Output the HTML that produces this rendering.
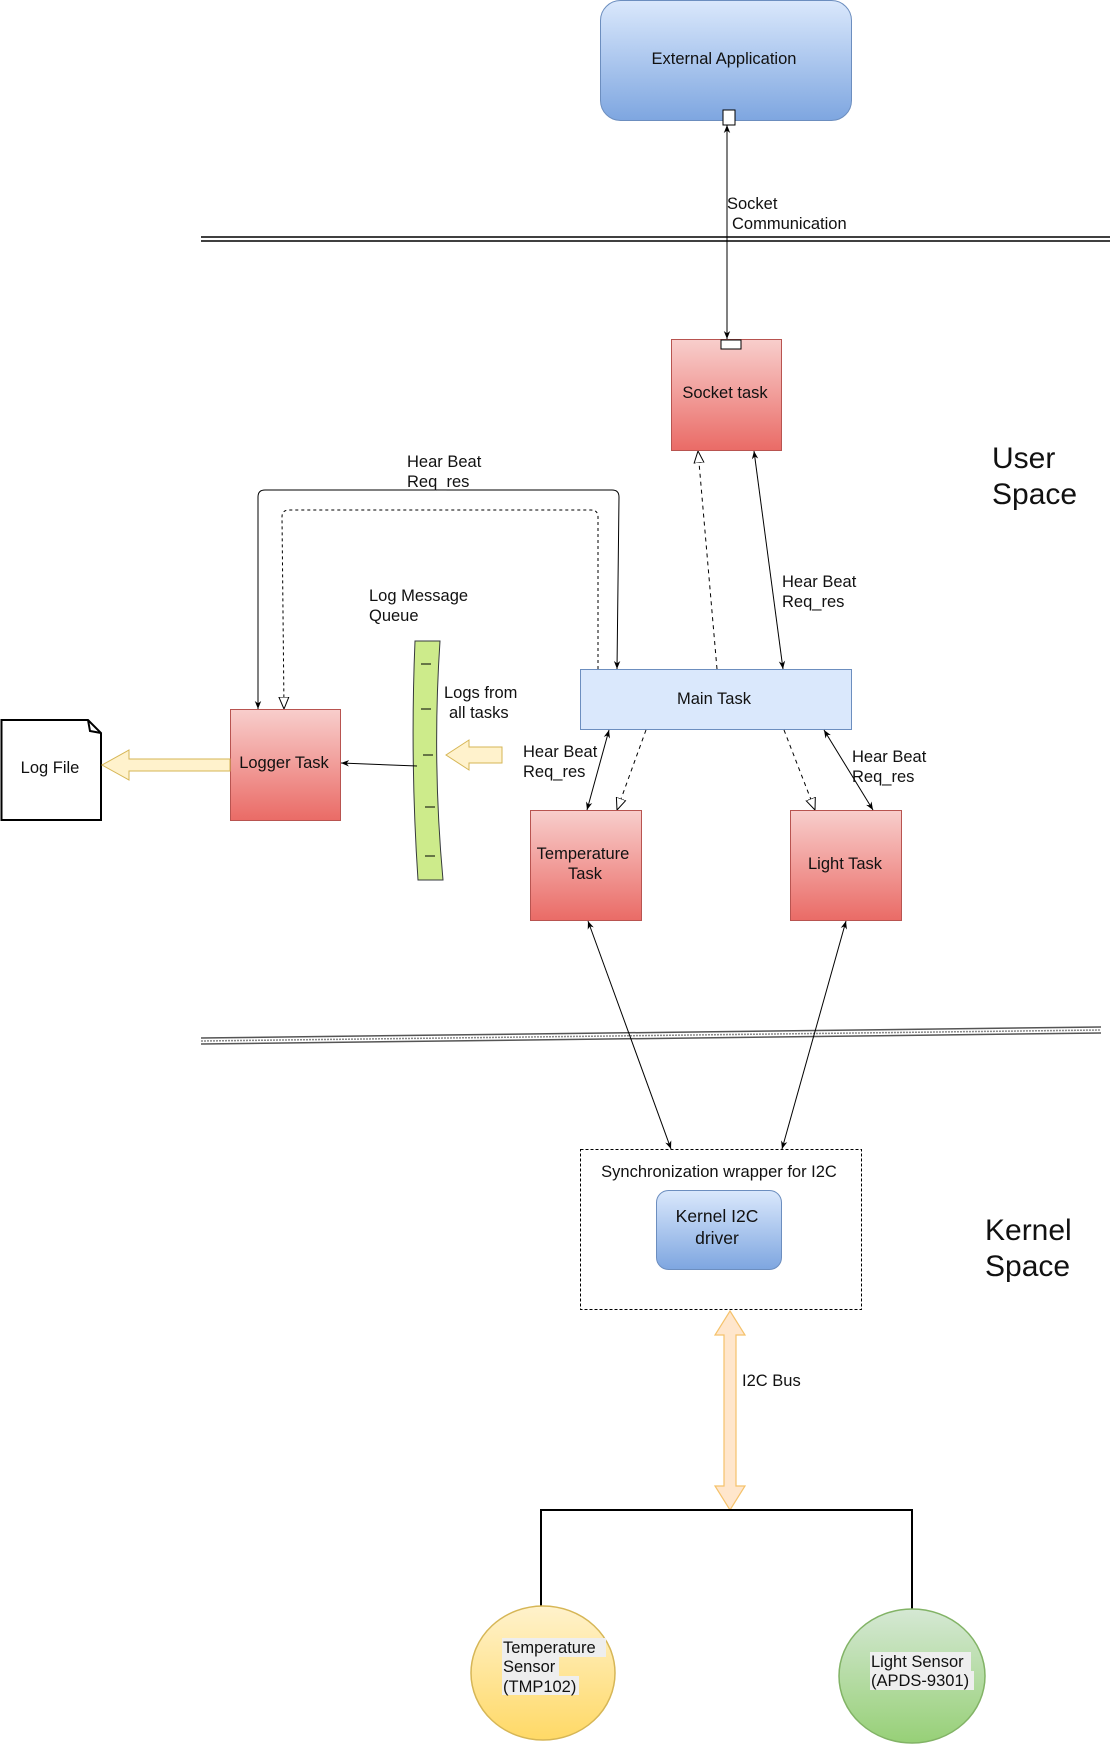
<!DOCTYPE html>
<html><head><meta charset="utf-8"><style>
html,body{margin:0;padding:0;background:#fff;}
svg{display:block;font-family:"Liberation Sans",sans-serif;}
text{font-size:16.5px;fill:#111;}
</style></head><body>
<svg width="1112" height="1745" viewBox="0 0 1112 1745" xmlns="http://www.w3.org/2000/svg">
<defs>
<linearGradient id="blue" x1="0" y1="0" x2="0" y2="1"><stop offset="0" stop-color="#dae8fc"/><stop offset="1" stop-color="#7ea6e0"/></linearGradient>
<linearGradient id="red" x1="0" y1="0" x2="0" y2="1"><stop offset="0" stop-color="#f8cecc"/><stop offset="1" stop-color="#ea6b66"/></linearGradient>
<linearGradient id="yel" x1="0" y1="0" x2="0" y2="1"><stop offset="0" stop-color="#fff2cc"/><stop offset="1" stop-color="#ffd966"/></linearGradient>
<linearGradient id="grn" x1="0" y1="0" x2="0" y2="1"><stop offset="0" stop-color="#d5e8d4"/><stop offset="1" stop-color="#97d077"/></linearGradient>
<marker id="a" viewBox="0 0 10 10" refX="10" refY="5" markerWidth="8" markerHeight="8" orient="auto-start-reverse"><path d="M0,1 L10,5 L0,9 L3,5 z" fill="#000"/></marker>
<marker id="h" viewBox="0 0 12 12" refX="12" refY="6" markerWidth="12" markerHeight="12" orient="auto" markerUnits="userSpaceOnUse"><path d="M0,1 L12,6 L0,11 z" fill="#fff" stroke="#000" stroke-width="1"/></marker>
</defs>

<rect x="600.5" y="0.5" width="251" height="120" rx="20" fill="url(#blue)" stroke="#6c8ebf"/>
<text x="724" y="64" text-anchor="middle">External Application</text>
<rect x="723" y="110" width="12" height="15" fill="#fff" stroke="#000"/>
<line x1="727" y1="125" x2="727" y2="339" stroke="#000" marker-start="url(#a)" marker-end="url(#a)"/>
<text x="727" y="209">Socket</text>
<text x="732" y="229">Communication</text>

<line x1="201" y1="237" x2="1110" y2="237" stroke="#000" stroke-width="1.5"/>
<line x1="201" y1="241" x2="1110" y2="241" stroke="#000" stroke-width="1.5"/>
<line x1="201" y1="1038" x2="1101" y2="1027" stroke="#555" stroke-width="1.5"/>
<line x1="201" y1="1041" x2="1101" y2="1030" stroke="#888" stroke-width="1.5" stroke-dasharray="2,1"/>
<line x1="201" y1="1044" x2="1101" y2="1033" stroke="#555" stroke-width="1.5"/>

<text x="992" y="468" style="font-size:30px">User</text>
<text x="992" y="504" style="font-size:30px">Space</text>
<text x="985" y="1240" style="font-size:30px">Kernel</text>
<text x="985" y="1276" style="font-size:30px">Space</text>

<rect x="671.5" y="339.5" width="110" height="111" fill="url(#red)" stroke="#b85450"/>
<rect x="721" y="340" width="20" height="9" fill="#fff" stroke="#000"/>
<text x="725" y="398" text-anchor="middle">Socket task</text>

<rect x="580.5" y="669.5" width="271" height="60" fill="#dae8fc" stroke="#6c8ebf"/>
<text x="714" y="704" text-anchor="middle">Main Task</text>

<rect x="230.5" y="709.5" width="110" height="111" fill="url(#red)" stroke="#b85450"/>
<text x="284" y="768" text-anchor="middle">Logger Task</text>

<path d="M1.5,720 L88,720 L101,733 L101,820 L1.5,820 z" fill="#fff" stroke="#000" stroke-width="2"/>
<path d="M88,720 L90,731 L101,733" fill="none" stroke="#000" stroke-width="2"/>
<text x="50" y="773" text-anchor="middle">Log File</text>

<rect x="530.5" y="810.5" width="111" height="110" fill="url(#red)" stroke="#b85450"/>
<text x="583" y="859" text-anchor="middle">Temperature</text>
<text x="585" y="879" text-anchor="middle">Task</text>
<rect x="790.5" y="810.5" width="111" height="110" fill="url(#red)" stroke="#b85450"/>
<text x="845" y="869" text-anchor="middle">Light Task</text>

<path d="M415,641 L440,641 Q432,760 443,880 L418,880 Q410,760 415,641 z" fill="#cdeb8b" stroke="#36393d"/>
<g stroke="#000"><line x1="421" y1="664" x2="431" y2="664"/><line x1="421" y1="709" x2="431" y2="709"/><line x1="423" y1="755" x2="433" y2="755"/><line x1="425" y1="807" x2="435" y2="807"/><line x1="425" y1="856" x2="435" y2="856"/></g>
<text x="369" y="601">Log Message</text>
<text x="369" y="621">Queue</text>
<text x="444" y="698">Logs from</text>
<text x="449" y="718">all tasks</text>

<path d="M502,747 L469,747 L469,740 L446,755 L469,770 L469,763 L502,763 z" fill="#fff2cc" stroke="#d6b656"/>
<path d="M230,759 L129,759 L129,750 L102,765 L129,780 L129,771 L230,771 z" fill="#fff2cc" stroke="#d6b656"/>
<line x1="417" y1="766" x2="341" y2="763" stroke="#000" marker-end="url(#a)"/>

<path d="M617,669 L619,497 Q619,490 612,490 L265,490 Q258,490 258,497 L258,709" fill="none" stroke="#000" marker-start="url(#a)" marker-end="url(#a)"/>
<path d="M598,669 L598,517 Q598,510 591,510 L289,510 Q282,510 282,517 L284,709" fill="none" stroke="#000" stroke-dasharray="3,3" marker-end="url(#h)"/>
<text x="407" y="467">Hear Beat</text>
<text x="407" y="487">Req_res</text>

<line x1="717" y1="669" x2="698" y2="451" stroke="#000" stroke-dasharray="4,4" marker-end="url(#h)"/>
<line x1="783" y1="669" x2="754" y2="451" stroke="#000" marker-start="url(#a)" marker-end="url(#a)"/>
<text x="782" y="587">Hear Beat</text>
<text x="782" y="607">Req_res</text>

<line x1="609" y1="730" x2="587" y2="810" stroke="#000" marker-start="url(#a)" marker-end="url(#a)"/>
<line x1="646" y1="730" x2="617" y2="810" stroke="#000" stroke-dasharray="4,4" marker-end="url(#h)"/>
<text x="523" y="757">Hear Beat</text>
<text x="523" y="777">Req_res</text>
<line x1="784" y1="730" x2="815" y2="810" stroke="#000" stroke-dasharray="4,4" marker-end="url(#h)"/>
<line x1="824" y1="730" x2="873" y2="810" stroke="#000" marker-start="url(#a)" marker-end="url(#a)"/>
<text x="852" y="762">Hear Beat</text>
<text x="852" y="782">Req_res</text>

<line x1="588" y1="921" x2="671" y2="1149" stroke="#000" marker-start="url(#a)" marker-end="url(#a)"/>
<line x1="846" y1="921" x2="782" y2="1149" stroke="#000" marker-start="url(#a)" marker-end="url(#a)"/>

<rect x="580.5" y="1149.5" width="281" height="160" fill="none" stroke="#000" stroke-dasharray="3,2"/>
<text x="719" y="1177" text-anchor="middle">Synchronization wrapper for I2C</text>
<rect x="656.5" y="1190.5" width="125" height="79" rx="12" fill="url(#blue)" stroke="#6c8ebf"/>
<text x="717" y="1222" text-anchor="middle" style="font-size:17.5px">Kernel I2C</text>
<text x="717" y="1244" text-anchor="middle" style="font-size:17.5px">driver</text>

<path d="M730,1311 L745,1335 L736,1335 L736,1486 L745,1486 L730,1510 L715,1486 L724,1486 L724,1335 L715,1335 z" fill="#ffe6cc" stroke="#f5c26b" stroke-width="1.2"/>
<text x="742" y="1386">I2C Bus</text>
<path d="M541,1609 L541,1510 L912,1510 L912,1612" fill="none" stroke="#000" stroke-width="2"/>

<ellipse cx="543" cy="1673" rx="72" ry="67" fill="url(#yel)" stroke="#d6b656" stroke-width="1.5"/>
<rect x="502" y="1638" width="104" height="19" fill="#eee"/>
<rect x="502" y="1657" width="57" height="19" fill="#eee"/>
<rect x="502" y="1676" width="77" height="19" fill="#eee"/>
<text x="503" y="1653">Temperature</text>
<text x="503" y="1672">Sensor</text>
<text x="503" y="1692">(TMP102)</text>
<ellipse cx="912" cy="1676" rx="73" ry="67" fill="url(#grn)" stroke="#82b366" stroke-width="1.5"/>
<rect x="870" y="1652" width="101" height="19" fill="#eee"/>
<rect x="870" y="1671" width="104" height="19" fill="#eee"/>
<text x="871" y="1667">Light Sensor</text>
<text x="871" y="1686">(APDS-9301)</text>
</svg>
</body></html>
